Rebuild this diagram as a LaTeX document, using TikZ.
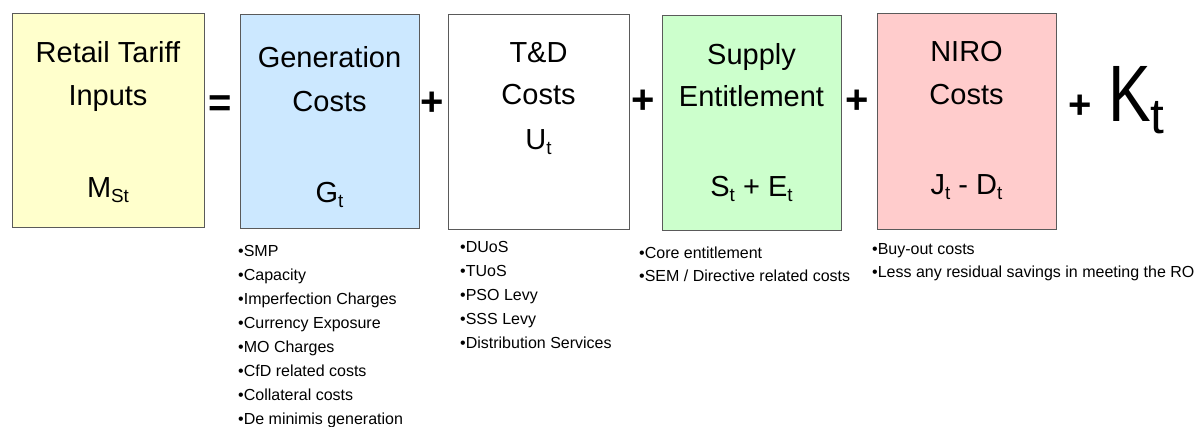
\documentclass[tikz,border=0pt]{standalone}
\usepackage{fontspec}
\setmainfont{Liberation Sans}
\usepackage{graphicx}
\newcommand\lsub[1]{\raisebox{-0.15em}{\scalebox{0.65}{#1}}}
\definecolor{boxline}{HTML}{5A5A5A}
\definecolor{fyel}{HTML}{FFFFCC}
\definecolor{fblu}{HTML}{CCE8FF}
\definecolor{fgrn}{HTML}{CCFFCC}
\definecolor{fpnk}{HTML}{FFCCCC}
\begin{document}
\begin{tikzpicture}[x=1pt,y=-1pt,
  box/.style={draw=boxline, line width=1.2pt, inner sep=0pt, anchor=north west},
  big/.style={font=\fontsize{29}{33}\selectfont, anchor=base, inner sep=0pt},
  op/.style={font=\fontsize{40}{44}\selectfont\bfseries, inner sep=0pt, anchor=center},
  lst/.style={font=\fontsize{16}{20}\selectfont, anchor=base west, inner sep=0pt}]
\useasboundingbox (0,0) rectangle (1199,427);
\fill[white] (0,0) rectangle (1199,427);
% boxes
\node[box, fill=fyel, minimum width=192pt, minimum height=214pt] (b1) at (12,13) {};
\node[box, fill=fblu, minimum width=179pt, minimum height=214pt] (b2) at (240,14) {};
\node[box, fill=white, minimum width=181pt, minimum height=215pt] (b3) at (448,14) {};
\node[box, fill=fgrn, minimum width=179pt, minimum height=215pt] (b4) at (662,15) {};
\node[box, fill=fpnk, minimum width=179pt, minimum height=216pt] (b5) at (877,13) {};
% box texts
\node[big] (t1a) at (108,63) {Retail Tariff};
\node[big] (t1b) at (108,106) {Inputs};
\node[big] (t1c) at (108,198) {M\lsub{St}};
\node[big] (t2a) at (329.5,68) {Generation};
\node[big] (t2b) at (329.5,112) {Costs};
\node[big] (t2c) at (329.5,203) {G\lsub{t}};
\node[big] (t3a) at (538.5,63) {T\&D};
\node[big] (t3b) at (538.5,105) {Costs};
\node[big] (t3c) at (538.5,150) {U\lsub{t}};
\node[big] (t4a) at (751.5,65) {Supply};
\node[big] (t4b) at (751.5,107) {Entitlement};
\node[big] (t4c) at (751.5,197) {S\lsub{t} + E\lsub{t}};
\node[big] (t5a) at (966.5,62) {NIRO};
\node[big] (t5b) at (966.5,105) {Costs};
\node[big] (t5c) at (966.5,195) {J\lsub{t} - D\lsub{t}};
% operators
\node[op] (eq) at (220,106) {=};
\node[op] (p1) at (432,104) {+};
\node[op] (p2) at (643,102) {+};
\node[op] (p3) at (857,102) {+};
\node[op] (p4) at (1080,107) {+};
\node[anchor=base west, inner sep=0pt, font=\fontsize{80}{84}\selectfont] (kt) at (1108,122)
  {\scalebox{0.8}[1]{K}\raisebox{-0.14em}{\scalebox{0.62}{t}}};
% lists
\foreach \t [count=\i] in {SMP, Capacity, Imperfection Charges, Currency Exposure, MO Charges, CfD related costs, Collateral costs, De minimis generation}
  \node[lst] (g\i) at ({238},{257+23.9*(\i-1)}) {•\t};
\foreach \t [count=\i] in {DUoS, TUoS, PSO Levy, SSS Levy, Distribution Services}
  \node[lst] (u\i) at ({460},{253+23.9*(\i-1)}) {•\t};
\foreach \t [count=\i] in {Core entitlement, SEM / Directive related costs}
  \node[lst] (s\i) at ({639},{259+23*(\i-1)}) {•\t};
\foreach \t [count=\i] in {Buy-out costs, Less any residual savings in meeting the RO}
  \node[lst] (n\i) at ({872},{255+23*(\i-1)}) {•\t};
\end{tikzpicture}
\end{document}
